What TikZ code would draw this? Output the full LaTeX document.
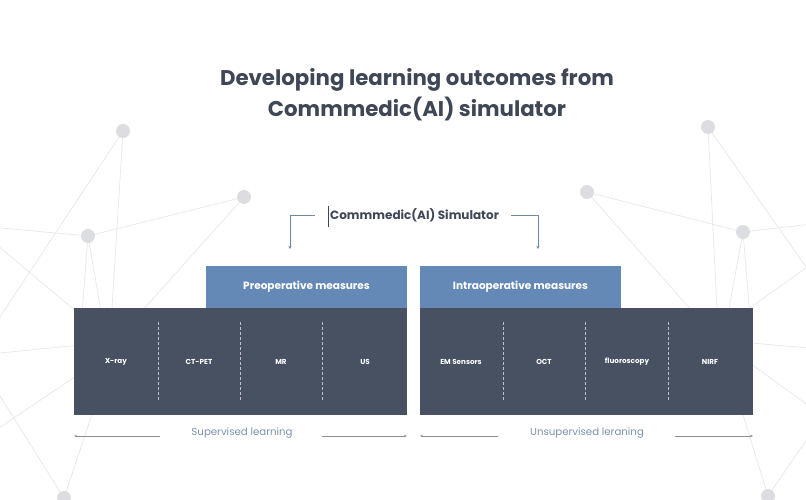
\documentclass[tikz,border=0pt]{standalone}
\usepackage{fontspec}
\setmainfont{Poppins}
\usetikzlibrary{arrows.meta}
\definecolor{titlec}{HTML}{3F4756}
\definecolor{bluebox}{HTML}{6589B7}
\definecolor{darkbox}{HTML}{475162}
\definecolor{dotc}{HTML}{DCDDE1}
\definecolor{netline}{HTML}{E9E9EC}
\definecolor{brack}{HTML}{6F86A6}
\definecolor{learnc}{HTML}{7D90AE}
\definecolor{arrc}{HTML}{8C9098}
\tikzset{
  net/.style={draw=netline, line width=0.8pt},
  netdot/.style={circle, fill=dotc, minimum size=14pt, inner sep=0pt},
  headbox/.style={fill=bluebox, text=white, minimum width=201pt, minimum height=42pt, inner sep=0pt, font=\fontsize{10.5}{12}\selectfont\bfseries},
  mainbox/.style={fill=darkbox, minimum width=333pt, minimum height=107pt, inner sep=0pt},
  cell/.style={text=white, font=\fontsize{7.2}{9}\selectfont\bfseries},
  divider/.style={draw=white!65!darkbox, dashed, dash pattern=on 3pt off 2pt, line width=0.5pt},
  brk/.style={draw=brack, line width=0.8pt, -{Stealth[length=3pt,width=3pt]}},
  learn/.style={text=learnc, font=\fontsize{10.2}{12}\selectfont},
  larrow/.style={draw=arrc, line width=0.8pt, -{Stealth[length=3pt,width=2.5pt]}}
}
\begin{document}
\begin{tikzpicture}[x=1pt,y=-1pt]
\useasboundingbox (0,0) rectangle (806,500);
\clip (0,0) rectangle (806,500);
% background network
\coordinate (L1) at (123,131);
\coordinate (L2) at (244,197);
\coordinate (L3) at (88,236);
\coordinate (L4) at (64,498);
\coordinate (R1) at (708,127);
\coordinate (R2) at (587,192);
\coordinate (R3) at (743,232);
\coordinate (R4) at (768,496);
\draw[net] (L1) -- (-10,332);
\draw[net] (L1) -- (110,340);
\draw[net] (L3) -- (-10,227);
\draw[net] (L3) -- (L2);
\draw[net] (-10,239) -- (110,340);
\draw[net] (L3) -- (80,340);
\draw[net] (L3) -- (106,340);
\draw[net] (L2) -- (125,330);
\draw[net] (-10,354) -- (90,344);
\draw[net] (-10,434) -- (100,360);
\draw[net] (-10,380) -- (L4);
\draw[net] (L4) -- (95,405);
\draw[net] (R1) -- (718,330);
\draw[net] (R1) -- (820,287);
\draw[net] (R2) -- (R3);
\draw[net] (R2) -- (700,320);
\draw[net] (R3) -- (820,223);
\draw[net] (R3) -- (725,330);
\draw[net] (R3) -- (751,330);
\draw[net] (820,258) -- (730,322);
\draw[net] (740,342) -- (820,349);
\draw[net] (740,356) -- (820,414);
\draw[net] (740,405) -- (R4);
\draw[net] (820,420) -- (R4);
\foreach \p in {L1,L2,L3,L4,R1,R2,R3,R4} \node[netdot] at (\p) {};
% title
\node[text=titlec, font=\fontsize{21.3}{31}\selectfont\bfseries, align=center] (title) at (417,95)
  {Developing learning outcomes from\\Commmedic(AI) simulator};
% simulator label
\node[text=titlec, font=\fontsize{12}{14}\selectfont\bfseries, anchor=west, inner sep=0pt] (sim) at (330,215) {Commmedic(AI) Simulator};
\draw[titlec, line width=0.7pt] (328.5,206) -- (328.5,227);
% boxes
\node[mainbox] (pre) at (240.5,361.5) {};
\node[mainbox] (intra) at (586.5,361.5) {};
\node[headbox] (prehead) at (306.5,287) {Preoperative measures};
\node[headbox] (intrahead) at (520.5,287) {Intraoperative measures};
% brackets
\coordinate (bl) at (290,249);
\coordinate (br) at (538,249);
\draw[brk] (315,215) -| (bl);
\draw[brk] (511,215) -| (br);
% dividers
\foreach \x in {158,240,322,503,585,668} \draw[divider] (\x,322) -- (\x,400);
% cells
\node[cell] (xray) at (116,362) {X-ray};
\node[cell] (ctpet) at (199,362) {CT-PET};
\node[cell] (mr) at (281,362) {MR};
\node[cell] (us) at (365,362) {US};
\node[cell] (em) at (461,362) {EM Sensors};
\node[cell] (oct) at (544,362) {OCT};
\node[cell] (fluoro) at (627,362) {fluoroscopy};
\node[cell] (nirf) at (710,362) {NIRF};
% learning labels
\node[learn] (sup) at (242,433) {Supervised learning};
\node[learn] (unsup) at (587,433) {Unsupervised leraning};
\coordinate (s1) at (160,436);
\coordinate (s2) at (74,436);
\coordinate (s3) at (322,436);
\coordinate (s4) at (407,436);
\coordinate (u1) at (498,436);
\coordinate (u2) at (420,436);
\coordinate (u3) at (675,436);
\coordinate (u4) at (753,436);
\draw[larrow] (s1) -- (s2);
\draw[larrow] (s3) -- (s4);
\draw[larrow] (u1) -- (u2);
\draw[larrow] (u3) -- (u4);
\end{tikzpicture}
\end{document}
